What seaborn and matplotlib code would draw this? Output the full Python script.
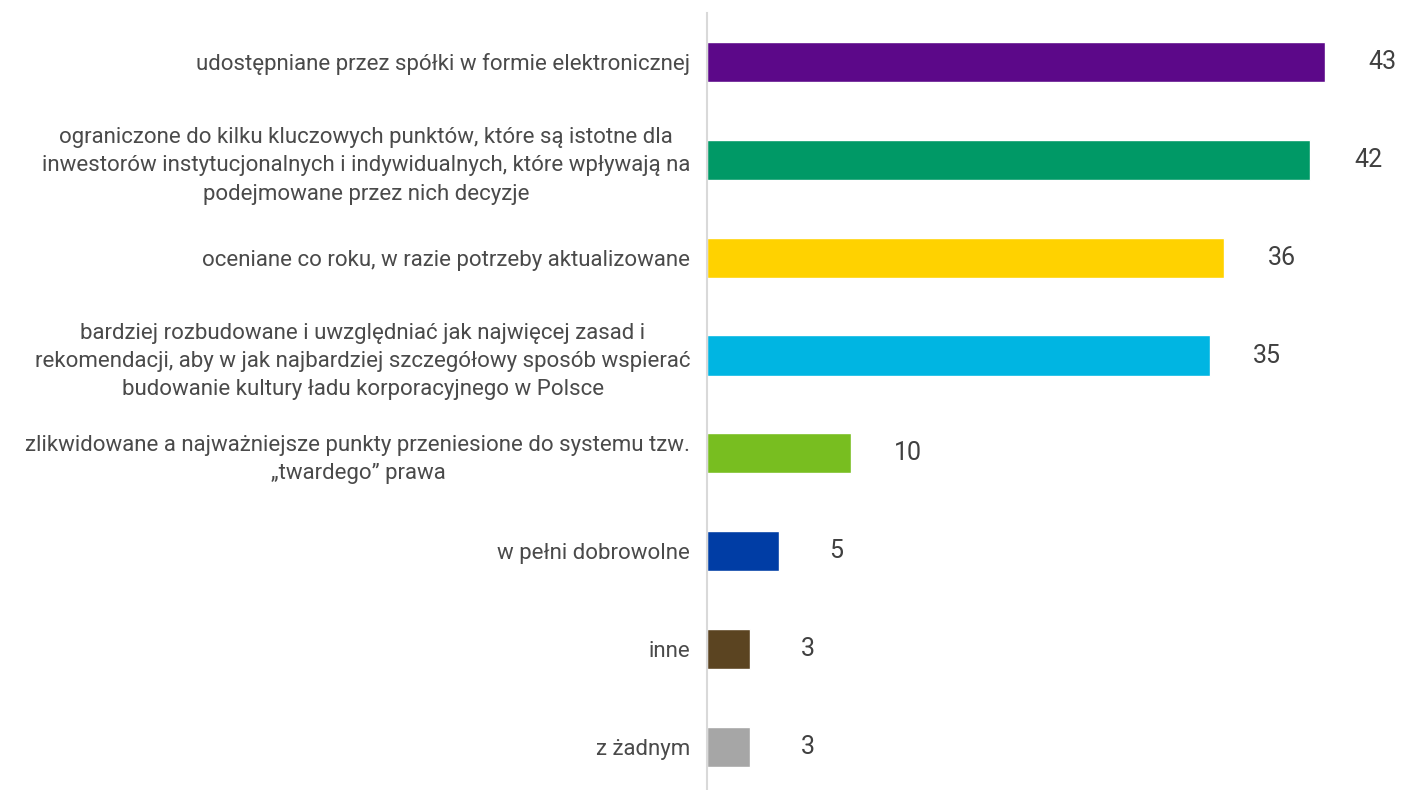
import matplotlib
matplotlib.use("Agg")
import matplotlib.pyplot as plt
import seaborn as sns
import pandas as pd

categories = [
    "udostępniane przez spółki w formie elektronicznej",
    "ograniczone do kilku kluczowych punktów, które są istotne dla\ninwestorów instytucjonalnych i indywidualnych, które wpływają na\npodejmowane przez nich decyzje",
    "oceniane co roku, w razie potrzeby aktualizowane",
    "bardziej rozbudowane i uwzględniać jak najwięcej zasad i\nrekomendacji, aby w jak najbardziej szczegółowy sposób wspierać\nbudowanie kultury ładu korporacyjnego w Polsce",
    "zlikwidowane a najważniejsze punkty przeniesione do systemu tzw.\n„twardego” prawa",
    "w pełni dobrowolne",
    "inne",
    "z żadnym",
]
values = [43, 42, 36, 35, 10, 5, 3, 3]
colors = ["#5C0889", "#009966", "#FFD200", "#00B5E2", "#78BE20", "#003DA5", "#5B4421", "#A6A6A6"]

sns.set_theme(style="white")
plt.rcParams['font.family'] = ['Roboto', 'DejaVu Sans']

df = pd.DataFrame({"cat": categories, "val": values})

fig = plt.figure(figsize=(14.01, 7.90), dpi=100)
ax = fig.add_axes([707 / 1401, 0, (1401 - 707) / 1401, 777 / 790])

sns.barplot(data=df, y="cat", x="val", hue="cat", palette=colors, legend=False,
            orient="h", width=0.41, ax=ax, saturation=1)

ax.set_xlim(0, 48.3)
ax.set_ylim(7.44, -0.5)
ax.set_xlabel("")
ax.set_ylabel("")
ax.set_xticks([])
for s in ["top", "right", "bottom"]:
    ax.spines[s].set_visible(False)
ax.spines["left"].set_color("#D9D9D9")
ax.spines["left"].set_linewidth(1.5)
ax.tick_params(axis="y", length=0, pad=12)
for lbl in ax.get_yticklabels():
    lbl.set_fontsize(16)
    lbl.set_color("#4A4A4A")
    lbl.set_horizontalalignment("right")
    lbl.set_multialignment("center")
    lbl.set_linespacing(1.45)

for i, v in enumerate(values):
    ax.text(v + 4.0, i, f"{v}", ha="center", va="center", fontsize=18,
            color="#404040")

fig.savefig("out.png", dpi=100)
